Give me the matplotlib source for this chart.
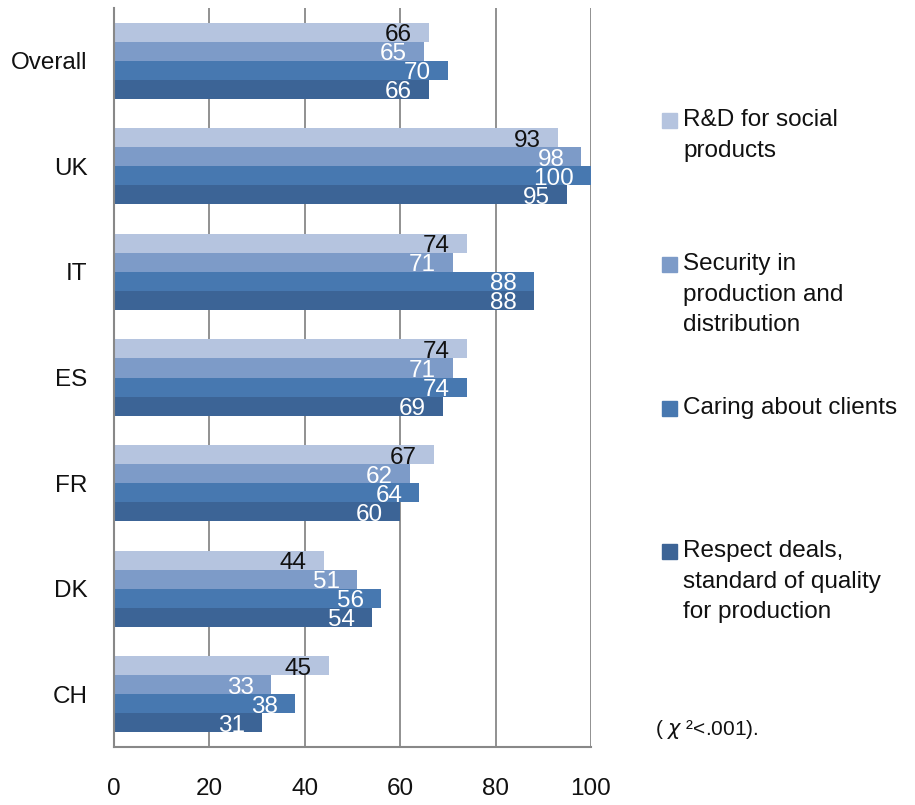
import matplotlib
matplotlib.use("Agg")
import matplotlib.pyplot as plt
import numpy as np
from matplotlib.patches import Rectangle

categories = ["Overall", "UK", "IT", "ES", "FR", "DK", "CH"]
series_names = ["R&D for social\nproducts",
                "Security in\nproduction and\ndistribution",
                "Caring about clients",
                "Respect deals,\nstandard of quality\nfor production"]
rd_social = [66, 93, 74, 74, 67, 44, 45]
security = [65, 98, 71, 71, 62, 51, 33]
caring = [70, 100, 88, 74, 64, 56, 38]
respect = [66, 95, 88, 69, 60, 54, 31]
xticks = [0, 20, 40, 60, 80, 100]
note = "( $\\chi$ ²<.001)."

colors = ["#B5C4DF", "#7D9BC8", "#4778B0", "#3C6496"]
label_colors = ["#111111", "white", "white", "white"]

plt.rcParams['font.family'] = ['Liberation Sans', 'DejaVu Sans']

W, H = 915, 805
fig = plt.figure(figsize=(W / 100, H / 100), dpi=100)
ax = fig.add_axes([114 / W, 58 / H, (591 - 114) / W, (747 - 8) / H])

FS = 17.5
data = [rd_social, security, caring, respect]
n = len(categories)
y = np.arange(n)
bh = 0.18
for i, (vals, c, lc) in enumerate(zip(data, colors, label_colors)):
    pos = y - 1.5 * bh + i * bh
    bars = ax.barh(pos, vals, height=bh, color=c, edgecolor='none', zorder=2)
    for b, v in zip(bars, vals):
        ax.annotate(str(v), xy=(b.get_width(), b.get_y() + b.get_height() / 2),
                    xytext=(-17, -3), textcoords='offset pixels',
                    ha='right', va='center', fontsize=FS, color=lc, zorder=3)

ax.set_ylim(n - 0.5, -0.5)
ax.set_xlim(0, 100)
ax.set_yticks(y)
ax.set_yticklabels(categories)
ax.set_xticks(xticks)
ax.tick_params(axis='both', length=0, labelsize=FS, colors='#111111')
ax.tick_params(axis='y', pad=19)
ax.tick_params(axis='x', pad=22)
ax.grid(axis='x', color='#888888', linewidth=1.3, zorder=1)
for s in ['top', 'right']:
    ax.spines[s].set_visible(False)
for s in ['left', 'bottom']:
    ax.spines[s].set_color('#888888')
    ax.spines[s].set_linewidth(1.5)

# manual legend (Excel-like placement)
first_line_y = [121, 265, 409, 552]
for name, c, ly in zip(series_names, colors, first_line_y):
    fig.patches.append(Rectangle((662 / W, 1 - (ly + 7) / H), 15 / W, 15 / H,
                                 transform=fig.transFigure, color=c))
    fig.text(683 / W, 1 - (ly - 12) / H, name, ha='left', va='top',
             fontsize=FS, linespacing=1.5, color='#111111')

fig.text(655 / W, 1 - 729 / H, note, ha='left', va='center', fontsize=15,
         color='#111111')

fig.savefig("out.png", dpi=100)
